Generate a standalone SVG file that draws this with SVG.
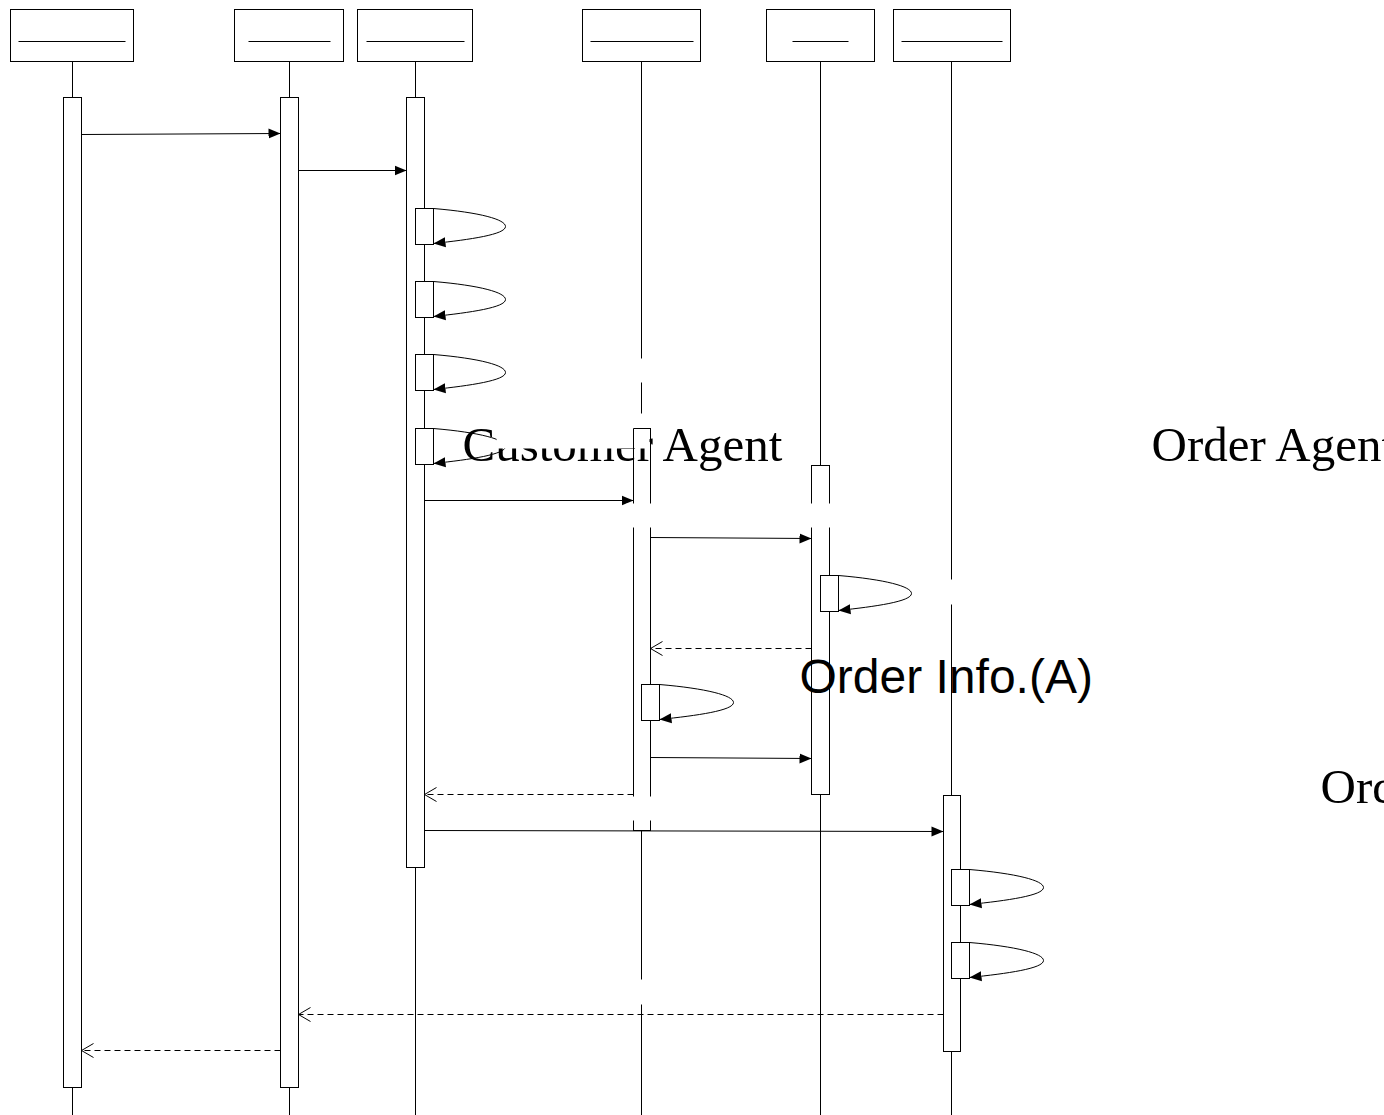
<svg xmlns="http://www.w3.org/2000/svg" width="1384" height="1115" viewBox="0 0 1384 1115">
<style>
.box{fill:#fff;stroke:#000;stroke-width:1}
.ul{stroke:#000;stroke-width:1}
.life{stroke:#000;stroke-width:1}
.act{fill:#fff;stroke:#000;stroke-width:1}
.msg{fill:none;stroke:#000;stroke-width:1}
.ret{fill:none;stroke:#000;stroke-width:1;stroke-dasharray:6,4}
.mask{fill:#fff;stroke:none}
.serif{font-family:"Liberation Serif","Times New Roman",serif;font-size:49px;fill:#000}
.sans{font-family:"Liberation Sans",Arial,sans-serif;font-size:48px;fill:#000}
</style>
<defs>
<marker id="fill" markerWidth="13" markerHeight="11" refX="12" refY="5.5" orient="auto" markerUnits="userSpaceOnUse">
<path d="M0,0.5 L12,5.5 L0,10.5 Z" fill="#000"/>
</marker>
<marker id="open" markerWidth="14" markerHeight="16" refX="12" refY="8" orient="auto" markerUnits="userSpaceOnUse">
<path d="M0,1 L12,8 L0,15" fill="none" stroke="#000" stroke-width="1"/>
</marker>
</defs>
<rect width="1384" height="1115" fill="#fff"/>
<g transform="translate(0.5,0.5)">
<g id="lifelines">
<line class="life" x1="72" y1="61" x2="72" y2="1115"/>
<line class="life" x1="289" y1="61" x2="289" y2="1115"/>
<line class="life" x1="415" y1="61" x2="415" y2="1115"/>
<line class="life" x1="641" y1="61" x2="641" y2="1115"/>
<line class="life" x1="820" y1="61" x2="820" y2="1115"/>
<line class="life" x1="951" y1="61" x2="951" y2="1115"/>
</g>

<g id="p1"><rect class="box" x="10" y="9" width="123" height="52"/><line class="ul" x1="18" y1="41" x2="125" y2="41"/></g>
<g id="p2"><rect class="box" x="234" y="9" width="109" height="52"/><line class="ul" x1="248" y1="41" x2="330" y2="41"/></g>
<g id="p3"><rect class="box" x="357" y="9" width="115" height="52"/><line class="ul" x1="366" y1="41" x2="464" y2="41"/></g>
<g id="p4"><rect class="box" x="582" y="9" width="118" height="52"/><line class="ul" x1="590" y1="41" x2="693" y2="41"/></g>
<g id="p5"><rect class="box" x="766" y="9" width="108" height="52"/><line class="ul" x1="792" y1="41" x2="848" y2="41"/></g>
<g id="p6"><rect class="box" x="893" y="9" width="117" height="52"/><line class="ul" x1="901" y1="41" x2="1002" y2="41"/></g>

<g id="activations">
<rect class="act" x="63" y="97" width="18" height="990"/>
<rect class="act" x="280" y="97" width="18" height="990"/>
<rect class="act" x="406" y="97" width="18" height="770"/>
<rect class="act" x="633" y="428" width="17" height="402"/>
<rect class="act" x="811" y="465" width="18" height="329"/>
<rect class="act" x="943" y="795" width="17" height="256"/>
</g>

<g id="selfboxes">
<rect class="act" x="415" y="208" width="18" height="36"/>
<rect class="act" x="415" y="281" width="18" height="36"/>
<rect class="act" x="415" y="354" width="18" height="36"/>
<rect class="act" x="415" y="428" width="18" height="36"/>
<rect class="act" x="820" y="575" width="18" height="36"/>
<rect class="act" x="641" y="684" width="18" height="36"/>
<rect class="act" x="951" y="869" width="18" height="36"/>
<rect class="act" x="951" y="942" width="18" height="36"/>
</g>

<g id="connectors">
<line class="msg" x1="81" y1="134" x2="280" y2="133" marker-end="url(#fill)"/>
<line class="msg" x1="298" y1="170" x2="406" y2="170" marker-end="url(#fill)"/>
<path class="msg" d="M433,208 C480,212 505,219 505,226 C505,234 470,239 433,243" marker-end="url(#fill)"/>
<path class="msg" d="M433,281 C480,285 505,292 505,299 C505,307 470,312 433,316" marker-end="url(#fill)"/>
<path class="msg" d="M433,354 C480,358 505,365 505,372 C505,380 470,385 433,389" marker-end="url(#fill)"/>
<path class="msg" d="M433,428 C480,432 505,439 505,446 C505,454 470,459 433,463" marker-end="url(#fill)"/>
<line class="msg" x1="424" y1="500" x2="633" y2="500" marker-end="url(#fill)"/>
<line class="msg" x1="650" y1="537" x2="811" y2="538" marker-end="url(#fill)"/>
<path class="msg" d="M838,575 C885,579 911,586 911,593 C911,601 875,606 838,610" marker-end="url(#fill)"/>
<line class="ret" x1="811" y1="648" x2="650" y2="648" marker-end="url(#open)"/>
<path class="msg" d="M659,684 C706,688 733,695 733,702 C733,710 697,715 659,719" marker-end="url(#fill)"/>
<line class="msg" x1="650" y1="757" x2="811" y2="758" marker-end="url(#fill)"/>
<line class="ret" x1="633" y1="794" x2="424" y2="794" marker-end="url(#open)"/>
<line class="msg" x1="424" y1="830" x2="943" y2="831" marker-end="url(#fill)"/>
<path class="msg" d="M969,869 C1016,873 1043,880 1043,887 C1043,895 1007,900 969,904" marker-end="url(#fill)"/>
<path class="msg" d="M969,942 C1016,946 1043,953 1043,960 C1043,968 1007,973 969,977" marker-end="url(#fill)"/>
<line class="ret" x1="943" y1="1014" x2="298" y2="1014" marker-end="url(#open)"/>
<line class="ret" x1="280" y1="1050" x2="81" y2="1050" marker-end="url(#open)"/>
</g>

<g id="labels">
<text class="serif" x="462" y="460">Customer Agent</text>
<text class="serif" x="1151" y="460">Order Agent</text>
<text class="serif" x="1320" y="802">Ord</text>
<text class="sans" x="799" y="692">Order Info.(A)</text>
</g>

<g id="masks">
<rect class="mask" x="496" y="413" width="153" height="35"/>
<rect class="mask" x="636" y="358" width="10" height="24"/>
<rect class="mask" x="626" y="503" width="208" height="24"/>
<rect class="mask" x="946" y="579" width="10" height="25"/>
<rect class="mask" x="628" y="796" width="27" height="24"/>
<rect class="mask" x="636" y="979" width="10" height="25"/>
</g>
<g id="a4top">
<line class="life" x1="633" y1="428" x2="650" y2="428"/>
<line class="life" x1="633" y1="428" x2="633" y2="450"/>
<line class="life" x1="650" y1="428" x2="650" y2="450"/>
</g>
</g>
</svg>
